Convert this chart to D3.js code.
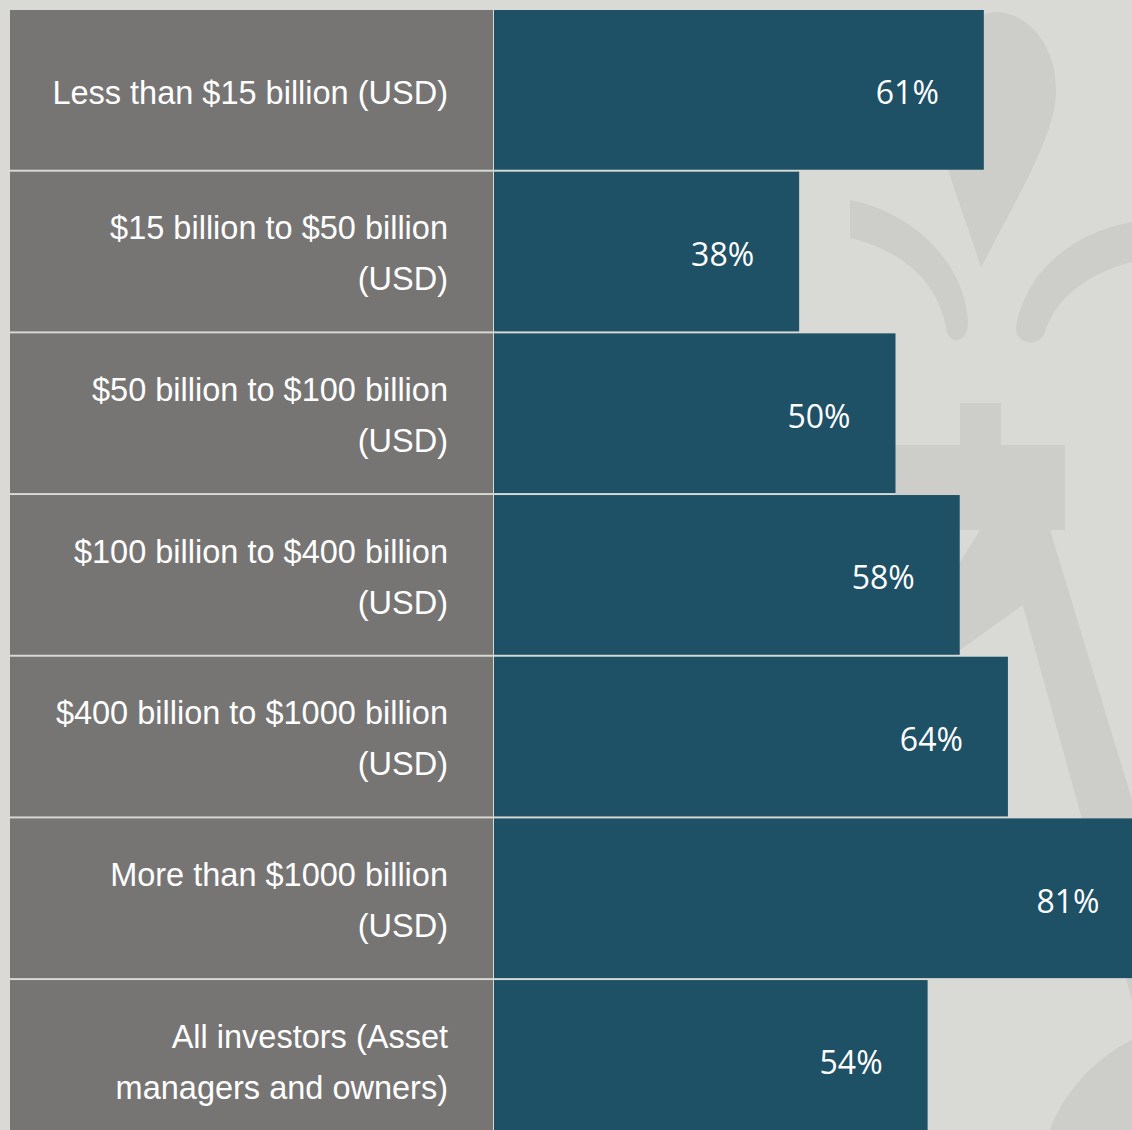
<!DOCTYPE html>
<html>
<head>
<meta charset="utf-8">
<script src="https://cdn.jsdelivr.net/npm/d3@7"></script>
<style>
  html, body { margin: 0; padding: 0; background: #d9dad6; }
  svg { display: block; }
</style>
</head>
<body>
<div id="chart"></div>
<script>
// chart data
const categories = [
    ["Less than $15 billion (USD)"],
    ["$15 billion to $50 billion", "(USD)"],
    ["$50 billion to $100 billion", "(USD)"],
    ["$100 billion to $400 billion", "(USD)"],
    ["$400 billion to $1000 billion", "(USD)"],
    ["More than $1000 billion", "(USD)"],
    ["All investors (Asset", "managers and owners)"]
];
const values = [61, 38, 50, 58, 64, 81, 54];

const width = 1132;
const height = 1130;

const svg = d3.select("#chart")
    .append("svg")
    .attr("width", width)
    .attr("height", height);

svg.append("rect")
    .attr("width", width)
    .attr("height", height)
    .attr("fill", "#d9dad6");

// faint emblem behind the bars
const mark = svg.append("g").attr("fill", "#cdcdc9");
mark.append("path")
    .attr("d", "M981,268 C962,205 932,140 934,88 C937,38 972,12 998,12 C1030,14 1058,48 1056,95 C1053,142 1012,205 981,268 Z");
mark.append("path")
    .attr("d", "M1016,328 C1025,270 1075,232 1132,222 L1132,262 C1090,272 1055,298 1045,332 C1040,348 1016,345 1016,328 Z");
mark.append("path")
    .attr("d", "M946,328 C938,280 900,250 850,238 L850,200 C912,212 965,262 968,322 C968,345 948,345 946,328 Z");
mark.append("rect").attr("x", 960).attr("y", 403).attr("width", 41).attr("height", 45);
mark.append("rect").attr("x", 895).attr("y", 445).attr("width", 170).attr("height", 85);
mark.append("path")
    .attr("d", "M1002,530 L1050,530 L1132,800 L1132,1000 Z");
mark.append("path")
    .attr("d", "M980,530 L1010,530 L1030,600 L960,650 L930,610 Z");
mark.append("path")
    .attr("d", "M1132,1040 C1090,1060 1060,1100 1050,1130 L1132,1130 Z");

// scales
const y = d3.scaleBand()
    .domain(d3.range(categories.length))
    .range([10, 10 + 161.4 * categories.length])
    .paddingInner(0.012);

const x = d3.scaleLinear()
    .domain([0, 100])
    .range([494, 1297]);

const rows = svg.selectAll("g.row")
    .data(values)
    .enter()
    .append("g")
    .attr("class", "row");

// grey label cells
rows.append("rect")
    .attr("x", 10)
    .attr("y", (d, i) => y(i))
    .attr("width", 483)
    .attr("height", y.bandwidth())
    .attr("fill", "#767574");

// bars
rows.append("rect")
    .attr("x", x(0))
    .attr("y", (d, i) => y(i))
    .attr("width", d => x(d) - x(0))
    .attr("height", y.bandwidth())
    .attr("fill", "#1f5166");

// category labels
rows.each(function(d, i) {
    const lines = categories[i];
    const cy = y(i) + y.bandwidth() / 2;
    const g = d3.select(this);
    lines.forEach((line, j) => {
        const offset = lines.length === 1 ? 2 : (j === 0 ? -24 : 27);
        g.append("text")
            .attr("x", 448)
            .attr("y", cy + offset)
            .attr("dy", "0.36em")
            .attr("text-anchor", "end")
            .attr("font-family", "'Liberation Sans', Arial, sans-serif")
            .attr("font-size", 32.5)
            .attr("fill", "#ffffff")
            .text(line);
    });
});

// value labels
rows.append("text")
    .attr("x", d => x(d) - 45)
    .attr("y", (d, i) => y(i) + y.bandwidth() / 2 + 3)
    .attr("dy", "0.36em")
    .attr("text-anchor", "end")
    .attr("font-family", "'Open Sans', sans-serif")
    .attr("font-size", 32)
    .attr("fill", "#ffffff")
    .text(d => d + "%");
</script>
</body>
</html>
